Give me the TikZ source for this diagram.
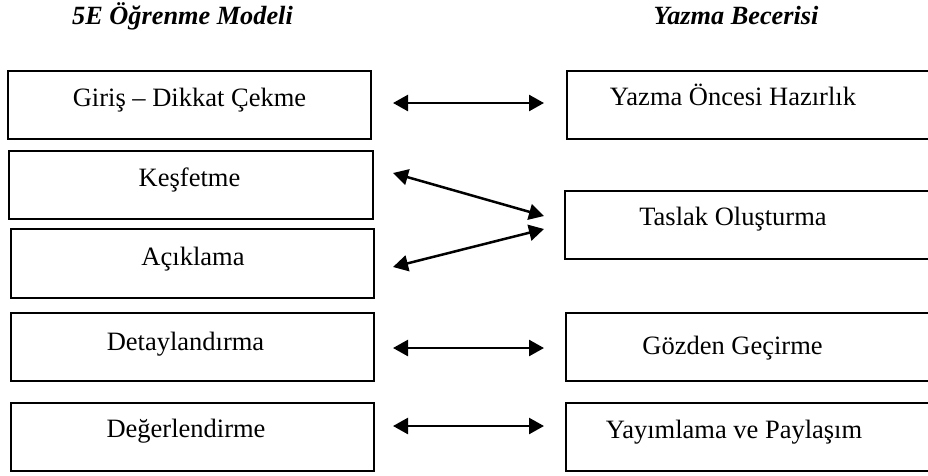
\documentclass[tikz,border=0pt]{standalone}
\usepackage{fontspec}
\setmainfont{Liberation Serif}
\usetikzlibrary{arrows.meta}
\begin{document}
\begin{tikzpicture}[x=1pt,y=-1pt,
  stagebox/.style={draw=black, line width=1.7pt, inner sep=0pt},
  boxtext/.style={anchor=base, inner sep=0pt, font=\fontsize{26.5}{30}\selectfont},
  headtext/.style={anchor=base, inner sep=0pt, font=\fontsize{26.3}{30}\selectfont\bfseries\itshape},
  link/.style={line width=2.5pt, {Triangle[length=15pt,width=16pt]}-{Triangle[length=15pt,width=16pt]}}
]
\useasboundingbox (0,0) rectangle (928,475);
% headings
\node[headtext] (h1) at (182.5,24) {5E Öğrenme Modeli};
\node[headtext] (h2) at (736,24) {Yazma Becerisi};
% left boxes
\node[stagebox, minimum width=363pt, minimum height=68pt] (l1) at (189.5,105) {};
\node[stagebox, minimum width=364pt, minimum height=68pt] (l2) at (191,185) {};
\node[stagebox, minimum width=363pt, minimum height=69pt] (l3) at (192.5,263.5) {};
\node[stagebox, minimum width=363pt, minimum height=68pt] (l4) at (192.5,347) {};
\node[stagebox, minimum width=363pt, minimum height=68pt] (l5) at (192.5,437) {};
\node[boxtext] (t1) at (189.5,106) {Giriş – Dikkat Çekme};
\node[boxtext] (t2) at (189.5,186) {Keşfetme};
\node[boxtext] (t3) at (193,265) {Açıklama};
\node[boxtext] (t4) at (185.5,350) {Detaylandırma};
\node[boxtext] (t5) at (186,437) {Değerlendirme};
% right boxes
\node[stagebox, minimum width=380pt, minimum height=68pt] (r1) at (757,105) {};
\node[stagebox, minimum width=380pt, minimum height=68pt] (r2) at (755,225) {};
\node[stagebox, minimum width=380pt, minimum height=68pt] (r3) at (756,347) {};
\node[stagebox, minimum width=380pt, minimum height=68pt] (r4) at (756,437) {};
\node[boxtext] (u1) at (733,105) {Yazma Öncesi Hazırlık};
\node[boxtext] (u2) at (733,225) {Taslak Oluşturma};
\node[boxtext] (u3) at (732.5,354) {Gözden Geçirme};
\node[boxtext] (u4) at (734,438) {Yayımlama ve Paylaşım};
% arrow ends
\coordinate (a1s) at (393,103);
\coordinate (a1e) at (544,103);
\coordinate (a2s) at (393,173);
\coordinate (a2e) at (544,216);
\coordinate (a3s) at (393,267);
\coordinate (a3e) at (544,229);
\coordinate (a4s) at (393,348);
\coordinate (a4e) at (544,348);
\coordinate (a5s) at (393,426);
\coordinate (a5e) at (544,426);
\draw[link] (a1s) -- (a1e);
\draw[link] (a2s) -- (a2e);
\draw[link] (a3s) -- (a3e);
\draw[link] (a4s) -- (a4e);
\draw[link] (a5s) -- (a5e);
\end{tikzpicture}
\end{document}
